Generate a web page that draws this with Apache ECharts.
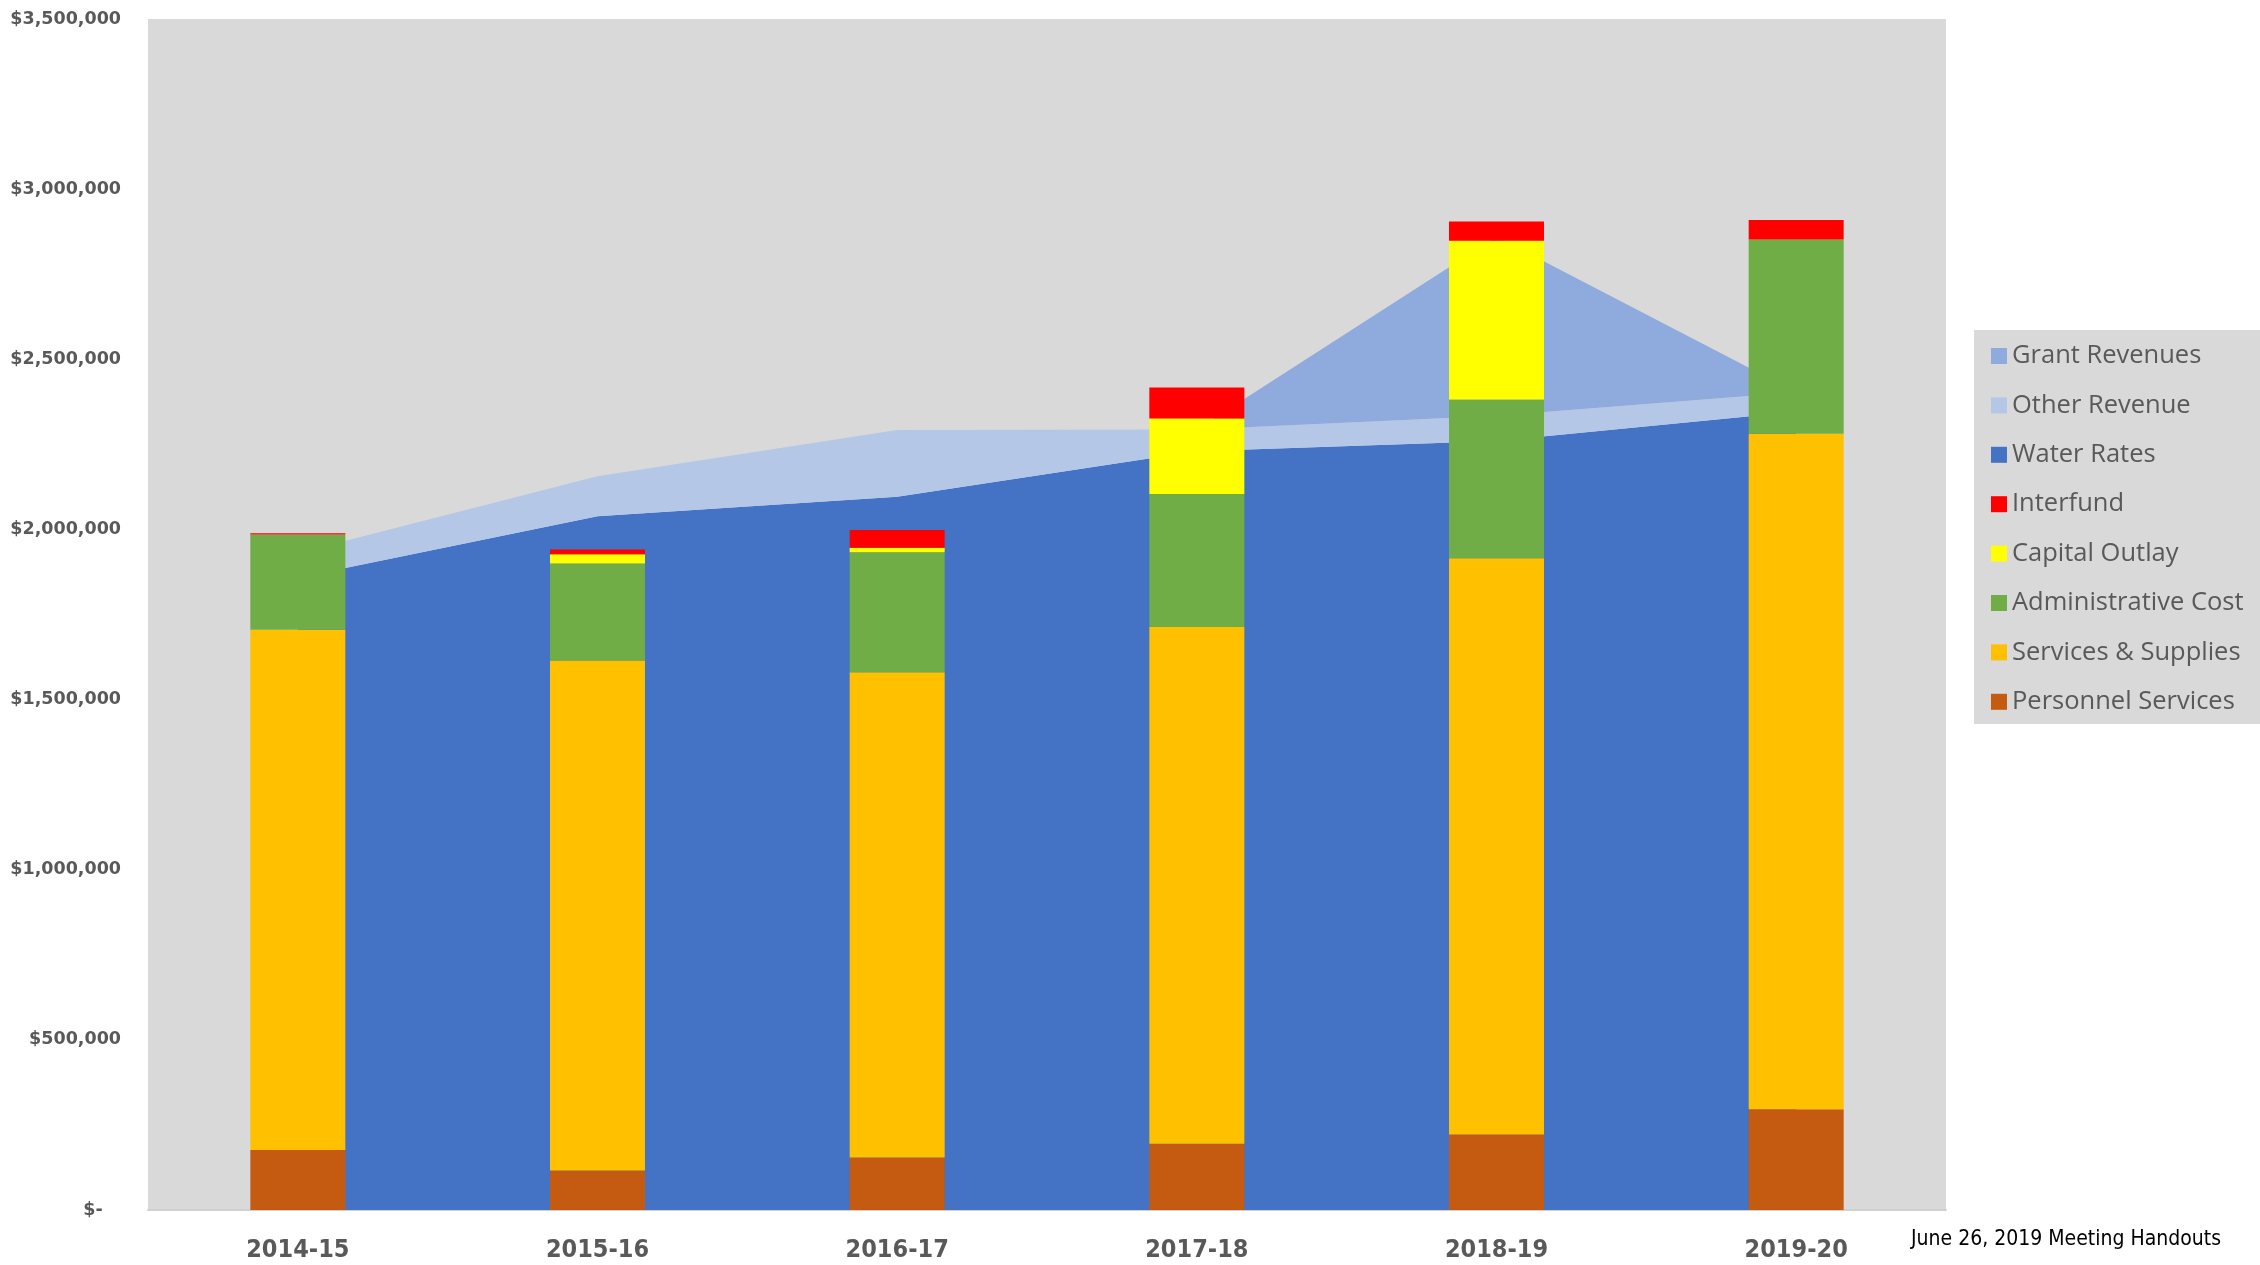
<!DOCTYPE html>
<html>
<head>
<meta charset="utf-8">
<title>Water Fund</title>
<script src="https://cdn.jsdelivr.net/npm/echarts@6/dist/echarts.min.js"></script>
<style>
  html, body { margin: 0; padding: 0; background: #ffffff; }
  #main { width: 2260px; height: 1265px; }
</style>
</head>
<body>
<div id="main"></div>
<script>
var years = ['2014-15', '2015-16', '2016-17', '2017-18', '2018-19', '2019-20'];

// revenues (stacked areas)
var waterRates    = [1858000, 2039000, 2096000, 2230000, 2260000, 2346000];
var otherRevenue  = [73000, 117000, 196000, 64000, 74000, 57000];
var grantRevenues = [0, 0, 0, 0, 526000, 0];

// expenses (stacked bars)
var personnel = [176000, 116000, 154000, 195000, 222000, 296000];
var services  = [1529000, 1499000, 1426000, 1518000, 1693000, 1985000];
var adminCost = [280000, 285000, 353000, 391000, 467000, 571000];
var capital   = [0, 27000, 13000, 222000, 466000, 0];
var interfund = [4000, 14000, 52000, 91000, 57000, 57000];

var legendOrder = ['Grant Revenues', 'Other Revenue', 'Water Rates', 'Interfund',
  'Capital Outlay', 'Administrative Cost', 'Services & Supplies', 'Personnel Services'];

var chart = echarts.init(document.getElementById('main'), null, { renderer: 'canvas' });

function money(v) {
  if (v === 0) return '$-   ';
  return '$' + v.toLocaleString('en-US');
}

function area(name, data, color) {
  return {
    name: name, type: 'line', stack: 'rev', data: data,
    symbol: 'none', smooth: false, z: 1,
    lineStyle: { width: 0 },
    itemStyle: { color: color },
    areaStyle: { color: color, opacity: 1 }
  };
}

function bar(name, data, color) {
  return {
    name: name, type: 'bar', stack: 'exp', data: data,
    barWidth: 95, z: 3,
    itemStyle: { color: color }
  };
}

var option = {
  animation: false,
  backgroundColor: '#ffffff',
  grid: {
    left: 148, right: 314, top: 19, bottom: 55,
    show: true, backgroundColor: '#d9d9d9', borderWidth: 0
  },
  graphic: [
    { type: 'rect', left: 1974, top: 330, z: 0,
      shape: { width: 286, height: 394 }, style: { fill: '#d9d9d9' } },
    { type: 'text', left: 1911, top: 1229, z: 10,
      style: { text: 'June 26, 2019 Meeting Handouts', fill: '#000000',
        font: '21px "Liberation Sans Narrow", "DejaVu Sans Condensed", "Liberation Sans", sans-serif' } }
  ],
  legend: {
    data: legendOrder,
    orient: 'vertical',
    left: 1991, top: 343,
    padding: 0,
    itemWidth: 16, itemHeight: 16,
    itemGap: 23.4,
    icon: 'rect',
    z: 5,
    textStyle: { color: '#595959', fontSize: 25.5, lineHeight: 24, fontFamily: '"Open Sans", sans-serif' }
  },
  xAxis: {
    type: 'category',
    data: years,
    boundaryGap: true,
    axisTick: { show: false },
    axisLine: { show: true, lineStyle: { color: '#d0d0d0', width: 2 } },
    axisLabel: {
      margin: 28, color: '#595959', fontSize: 25, fontWeight: 'bold',
      fontFamily: '"Liberation Sans Narrow", "DejaVu Sans Condensed", sans-serif'
    },
    splitLine: { show: false }
  },
  yAxis: {
    type: 'value',
    min: 0, max: 3500000, interval: 500000,
    axisLine: { show: false },
    axisTick: { show: false },
    splitLine: { show: false },
    axisLabel: {
      margin: 27, color: '#595959', fontSize: 17.5, fontWeight: 'bold',
      fontFamily: '"DejaVu Sans", sans-serif',
      formatter: money
    }
  },
  series: [
    area('Water Rates', waterRates, '#4472c4'),
    area('Other Revenue', otherRevenue, '#b4c7e7'),
    area('Grant Revenues', grantRevenues, '#8faadc'),
    bar('Personnel Services', personnel, '#c55a11'),
    bar('Services & Supplies', services, '#ffc000'),
    bar('Administrative Cost', adminCost, '#70ad47'),
    bar('Capital Outlay', capital, '#ffff00'),
    bar('Interfund', interfund, '#ff0000')
  ]
};

chart.setOption(option);
</script>
</body>
</html>
